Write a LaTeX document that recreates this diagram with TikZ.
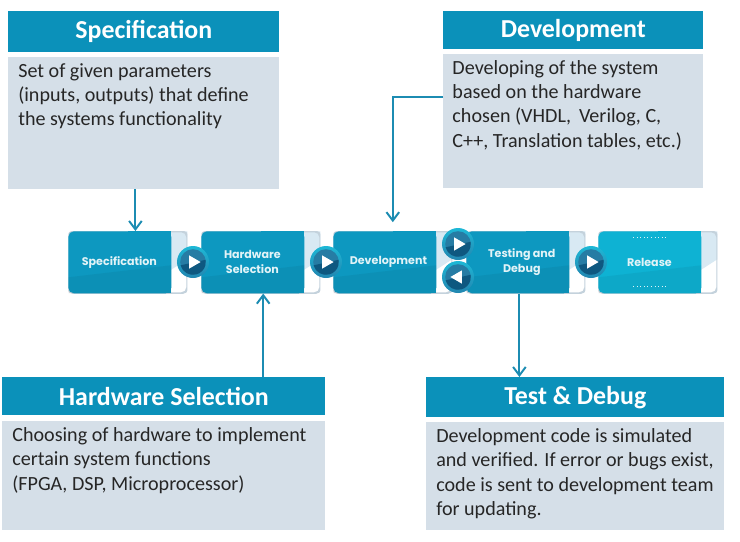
\documentclass[tikz,border=0pt]{standalone}
\usepackage{fontspec}
\setmainfont{Carlito}
\newfontfamily\stepfont{Poppins}
\usetikzlibrary{shapes.geometric, arrows.meta, positioning}

\definecolor{headblue}{RGB}{11,145,186}
\definecolor{bodygrey}{RGB}{213,223,232}
\definecolor{linkblue}{RGB}{28,140,178}
\definecolor{stepblue}{RGB}{13,152,192}
\definecolor{stepcyan}{RGB}{14,178,211}
\definecolor{panelblue}{RGB}{216,233,243}
\definecolor{stepedge}{RGB}{196,210,220}
\definecolor{facetop}{RGB}{38,124,164}
\definecolor{facelow}{RGB}{14,88,128}
\definecolor{ringtop}{RGB}{30,184,214}
\definecolor{ringlow}{RGB}{34,134,176}

\begin{document}
\begin{tikzpicture}[
      x=0.025cm, y=-0.025cm,
      headbox/.style = {
        rectangle, fill=headblue, text=white, inner sep=0pt,
        font=\fontsize{18.4}{20}\selectfont\bfseries
      },
      bodybox/.style = {rectangle, fill=bodygrey, inner sep=0pt},
      bodytext/.style = {
        anchor=north west, align=left, inner sep=0pt, text=black!85,
        font=\fontsize{14.3}{17.2}\selectfont
      },
      stepbox/.style = {
        rectangle, fill=white,
        minimum width=2.975cm, minimum height=1.55cm, inner sep=0pt,
        path picture={
          \fill[panelblue] (path picture bounding box.north east) -- ++(0,28)
            -- ++(-17,11) -- ++(0,-39) -- cycle;
          \draw[stepedge, line width=1.5pt, rounded corners=4pt]
            (path picture bounding box.north west) rectangle (path picture bounding box.south east);
          \fill[#1, rounded corners=4pt] (path picture bounding box.north west) rectangle ++(103,62);
          \fill[#1] ([xshift=1.5cm]path picture bounding box.north west) rectangle ++(43,62);
          \fill[black, opacity=0.05] (path picture bounding box.north west) ++(0,46)
            -- ++(103,-12) -- ++(0,28) -- ++(-103,0) -- cycle;
        }
      },
      steplabel/.style = {
        text=white!88!stepblue, align=center, inner sep=0pt,
        font=\stepfont\bfseries\fontsize{7.9}{10.5}\selectfont
      },
      playbtn/.style = {
        circle, minimum size=0.8cm, inner sep=0pt,
        top color=ringtop, bottom color=ringlow,
        path picture={
          \fill[facetop] (path picture bounding box.center) circle (0.32cm);
          \fill[facelow] ([shift={(195:0.32cm)}]path picture bounding box.center)
            arc[start angle=195, end angle=345, radius=0.32cm]
            -- ([shift={(10:0.32cm)}]path picture bounding box.center) -- cycle;
        }
      },
      playtip/.style = {
        regular polygon, regular polygon sides=3, fill=white,
        minimum size=0.38cm, inner sep=0pt, shape border rotate=#1
      },
      arr/.style = {-{Straight Barb[length=6pt,width=9pt]}, line width=1.4pt, color=linkblue},
      fleck/.style = {white!85!stepcyan, line width=0.5pt, dotted}
    ]

      \useasboundingbox (0,0) rectangle (740,541);

      % ===================== Upper text blocks =====================
      \node[headbox, minimum width=6.775cm, minimum height=1.025cm, anchor=north west]
        (spechead) at (8,11) {Specification};
      \node[bodybox, minimum width=6.775cm, minimum height=3.3cm, below=0.1cm of spechead]
        (specbody) {};
      \node[bodytext] (spectext) at ([xshift=0.25cm,yshift=-0.17cm]specbody.north west)
        {Set of given parameters\\(inputs, outputs) that define\\the systems functionality};

      \node[headbox, minimum width=6.5cm, minimum height=0.95cm, anchor=north west]
        (devhead) at (443,11) {Development};
      \node[bodybox, minimum width=6.5cm, minimum height=3.35cm, below=0.1cm of devhead]
        (devbody) {};
      \node[bodytext] (devtext) at ([xshift=0.23cm,yshift=-0.17cm]devbody.north west)
        {Developing of the system\\based on the hardware\\chosen (VHDL,\, Verilog, C,\\C++, Translation tables, etc.)};

      % ===================== Process row =====================
      \node[stepbox=stepblue, anchor=north west] (stepspec) at (68,231) {};
      \node[stepbox=stepblue, anchor=north west] (stephw)   at (201,231) {};
      \node[stepbox=stepblue, anchor=north west] (stepdev)  at (333,231) {};
      \node[stepbox=stepblue, anchor=north west] (steptest) at (466,231) {};
      \node[stepbox=stepcyan, anchor=north west] (steprel)  at (598,231) {};

      \node[steplabel] (lblspec) at ([xshift=-0.21cm]stepspec.center) {Specification};
      \node[steplabel] (lblhw)   at ([xshift=-0.21cm]stephw.center)   {Hardware\\Selection};
      \node[steplabel] (lbldev)  at ([xshift=-0.11cm]stepdev.center)  {Development};
      \node[steplabel] (lbltest) at ([xshift=-0.1cm]steptest.center)  {Testing and\\Debug};
      \node[steplabel] (lblrel)  at ([xshift=-0.21cm]steprel.center)  {Release};

      % little flecks on the last step
      \draw[fleck] (lblrel.center) ++(-16,-25) -- ++(32,0);
      \draw[fleck] (lblrel.center) ++(-16,24) -- ++(32,0);

      % ===================== Buttons between the steps =====================
      \node[playbtn] (gohw)   at (193,262) {};
      \node[playbtn] (godev)  at (326,262) {};
      \node[playbtn] (gotest) at (458,244) {};
      \node[playbtn] (goback) at (458,277) {};
      \node[playbtn] (gorel)  at (591,262) {};

      \node[playtip=-90] (tiphw)   at (gohw)   {};
      \node[playtip=-90] (tipdev)  at (godev)  {};
      \node[playtip=-90] (tiptest) at (gotest) {};
      \node[playtip=90]  (tipback) at (goback) {};
      \node[playtip=-90] (tiprel)  at (gorel)  {};

      % ===================== Lower text blocks =====================
      \node[headbox, minimum width=8.075cm, minimum height=0.95cm, anchor=north west]
        (hwhead) at (2,377) {Hardware Selection};
      \node[bodybox, minimum width=8.075cm, minimum height=2.725cm, below=0.125cm of hwhead]
        (hwbody) {};
      \node[bodytext] (hwtext) at ([xshift=0.25cm,yshift=-0.17cm]hwbody.north west)
        {Choosing of hardware to implement\\certain system functions\\(FPGA, DSP, Microprocessor)};

      \node[headbox, minimum width=7.45cm, minimum height=1cm, anchor=north west]
        (testhead) at (426,377) {Test \& Debug};
      \node[bodybox, minimum width=7.45cm, minimum height=2.7cm, below=0.1cm of testhead]
        (testbody) {};
      \node[bodytext] (testtext) at ([xshift=0.25cm,yshift=-0.17cm]testbody.north west)
        {Development code is simulated\\and verified. If error or bugs exist,\\code is sent to development team\\for updating.};

      % ===================== Links =====================
      \draw[arr] ([xshift=0.19cm]stepspec.north |- specbody.south) -- ([xshift=0.19cm]stepspec.north);
      \draw[arr] ([yshift=0.6cm]devbody.west) -| ([yshift=0.22cm]stepdev.north);
      \draw[arr] ([xshift=0.06cm]stephw.south |- hwhead.north) -- ([xshift=0.06cm]stephw.south);
      \draw[arr] ([xshift=-0.16cm]steptest.south) -- ([xshift=-0.16cm]steptest.south |- testhead.north);

    \end{tikzpicture}
\end{document}
